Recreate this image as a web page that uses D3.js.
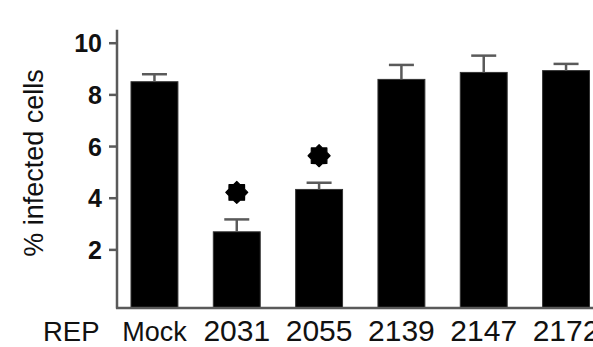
<!DOCTYPE html>
<html>
<head>
<meta charset="utf-8">
<script src="https://cdn.jsdelivr.net/npm/d3@7"></script>
<style>
  html, body { margin: 0; padding: 0; background: #fff; }
  svg { display: block; }
</style>
</head>
<body>
<svg id="chart" width="593" height="347"></svg>
<script>
// Percentage of infected cells per REP condition (mean ± SEM)
const categories = ["Mock", "2031", "2055", "2139", "2147", "2172"];
const means      = [8.49, 2.68, 4.32, 8.58, 8.85, 8.92];
const errors     = [0.29, 0.48, 0.26, 0.56, 0.65, 0.26];
const significant = [false, true, true, false, false, false];
const yTicks     = [2, 4, 6, 8, 10];

const svg = d3.select("#chart");
const W = 593, H = 347;

const axisColor = "#5a5a5a";
const left = 117, bottom = 307.5;

const x = d3.scaleBand()
  .domain(categories)
  .range([left, 603.5])
  .paddingInner(0.43)
  .paddingOuter(0.17);

// axis runs slightly below zero (offset baseline)
const y = d3.scaleLinear()
  .domain([-0.25, 10.5])
  .range([bottom, 29.8]);

const data = categories.map((c, i) => ({
  cat: c, mean: means[i], err: errors[i], sig: significant[i]
}));

// bars
svg.append("g")
  .selectAll("rect")
  .data(data)
  .join("rect")
  .attr("x", d => x(d.cat))
  .attr("y", d => y(d.mean))
  .attr("width", x.bandwidth())
  .attr("height", d => y(-0.25) - y(d.mean))
  .attr("fill", "#000")
  .attr("stroke", "#333")
  .attr("stroke-width", 1);

// upper error bars
const eb = svg.append("g")
  .attr("stroke", axisColor)
  .attr("stroke-width", 2.5)
  .attr("fill", "none");
eb.selectAll("line.stem")
  .data(data)
  .join("line")
  .attr("class", "stem")
  .attr("x1", d => x(d.cat) + x.bandwidth() / 2)
  .attr("x2", d => x(d.cat) + x.bandwidth() / 2)
  .attr("y1", d => y(d.mean))
  .attr("y2", d => y(d.mean + d.err));
eb.selectAll("line.cap")
  .data(data)
  .join("line")
  .attr("class", "cap")
  .attr("x1", d => x(d.cat) + x.bandwidth() / 2 - 12.5)
  .attr("x2", d => x(d.cat) + x.bandwidth() / 2 + 12.5)
  .attr("y1", d => y(d.mean + d.err))
  .attr("y2", d => y(d.mean + d.err));

// significance stars
function starPath(cx, cy, rOut, rIn, n) {
  const pts = [];
  for (let k = 0; k < n * 2; k++) {
    const r = k % 2 === 0 ? rOut : rIn;
    const a = -Math.PI / 2 + k * Math.PI / n;
    pts.push([cx + r * Math.cos(a), cy + r * Math.sin(a)]);
  }
  return d3.line().curve(d3.curveLinearClosed)(pts);
}
svg.append("g")
  .selectAll("path")
  .data(data.filter(d => d.sig))
  .join("path")
  .attr("d", d => starPath(x(d.cat) + x.bandwidth() / 2, y(d.mean + d.err) - 27, 11, 8.5, 8))
  .attr("fill", "#000")
  .attr("stroke", "#000")
  .attr("stroke-width", 1.2)
  .attr("stroke-linejoin", "round");

// y axis
const yAxis = d3.axisLeft(y).tickValues(yTicks).tickSize(8).tickPadding(7).tickFormat(d3.format("d"));
const gy = svg.append("g")
  .attr("transform", `translate(${left},0)`)
  .call(yAxis);
gy.select(".domain").attr("stroke", axisColor).attr("stroke-width", 2.5)
  .attr("d", `M0,${y(10.5)}V${y(-0.25) + 1}`);
gy.selectAll(".tick line").attr("stroke", axisColor).attr("stroke-width", 2.5);
gy.selectAll(".tick text")
  .attr("fill", "#111")
  .style("font-family", "'Liberation Sans', Arial, sans-serif")
  .style("font-weight", "bold")
  .style("font-size", "25px")
  .attr("dy", "0.36em");

// x axis baseline
svg.append("line")
  .attr("x1", left - 1)
  .attr("x2", W)
  .attr("y1", y(-0.25) + 0.5)
  .attr("y2", y(-0.25) + 0.5)
  .attr("stroke", axisColor)
  .attr("stroke-width", 2.5);

// category labels
svg.append("g")
  .selectAll("text")
  .data(categories)
  .join("text")
  .attr("x", d => x(d) + x.bandwidth() / 2)
  .attr("y", 341)
  .attr("text-anchor", "middle")
  .attr("fill", "#111")
  .style("font-family", "'Liberation Sans', Arial, sans-serif")
  .style("font-size", d => d === "Mock" ? "27px" : "30px")
  .text(d => d);

svg.append("text")
  .attr("x", 43)
  .attr("y", 341)
  .attr("fill", "#111")
  .style("font-family", "'Liberation Sans', Arial, sans-serif")
  .style("font-size", "27.5px")
  .text("REP");

// y axis title
svg.append("text")
  .attr("transform", `translate(43,${163}) rotate(-90)`)
  .attr("text-anchor", "middle")
  .attr("fill", "#111")
  .style("font-family", "'Liberation Sans', Arial, sans-serif")
  .style("font-size", "27px")
  .text("% infected cells");
</script>
</body>
</html>
